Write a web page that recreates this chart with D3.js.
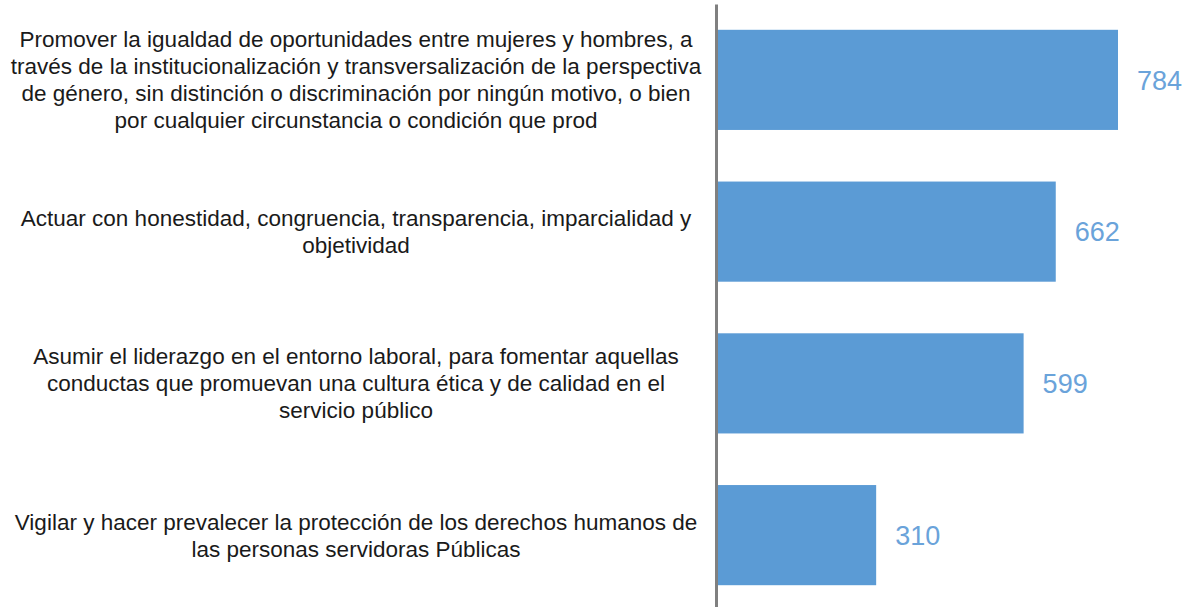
<!DOCTYPE html>
<html lang="es">
<head>
  <meta charset="UTF-8">
  <title>bar chart</title>
  <style>
    body {
      margin: 0;
      background: #fff;
      overflow: hidden;
    }
    .cat {
      font-family: "Liberation Sans", Arial, sans-serif;
      font-size: 22.5px;
      fill: #1a1a1a;
    }
    .val {
      font-family: "Liberation Sans", Arial, sans-serif;
      font-size: 27px;
      fill: #6aa3da;
    }
  </style>
</head>
<body>
<script src="https://cdn.jsdelivr.net/npm/d3@7"></script>
<script>
  // category labels, already wrapped the way the picture shows them
  var categories = [
    ["Promover la igualdad de oportunidades entre mujeres y hombres, a",
     "través de la institucionalización y transversalización de la perspectiva",
     "de género, sin distinción o discriminación por ningún motivo, o bien",
     "por cualquier circunstancia o condición que prod"],
    ["Actuar con honestidad, congruencia, transparencia, imparcialidad y",
     "objetividad"],
    ["Asumir el liderazgo en el entorno laboral, para fomentar aquellas",
     "conductas que promuevan una cultura ética y de calidad en el",
     "servicio público"],
    ["Vigilar y hacer prevalecer la protección de los derechos humanos de",
     "las personas servidoras Públicas"]
  ];
  var values = [784, 662, 599, 310];

  var width = 1189, height = 607;
  var axisX = 716;
  var labelCenter = 356;
  var lineH = 27;

  var idx = d3.range(values.length);

  var y = d3.scaleBand()
    .domain(idx)
    .range([4, 611])
    .paddingInner(0.34)
    .paddingOuter(0.17);

  var x = d3.scaleLinear()
    .domain([0, d3.max(values)])
    .range([718, 1118]);

  var svg = d3.select("body").append("svg")
    .attr("width", width)
    .attr("height", height);

  // bars
  svg.selectAll(".bar")
    .data(values)
    .enter().append("rect")
    .attr("class", "bar")
    .attr("x", x(0))
    .attr("y", function(d, i){ return y(i); })
    .attr("width", function(d){ return x(d) - x(0); })
    .attr("height", y.bandwidth())
    .attr("fill", "#5b9bd5");

  // value labels
  svg.selectAll(".val")
    .data(values)
    .enter().append("text")
    .attr("class", "val")
    .attr("x", function(d){ return x(d) + 19; })
    .attr("y", function(d, i){ return y(i) + y.bandwidth() / 2; })
    .attr("dy", "0.36em")
    .text(function(d){ return d; });

  // axis line (no ticks)
  var yAxis = svg.append("g")
    .attr("class", "y axis")
    .attr("transform", "translate(" + axisX + ",0)")
    .call(d3.axisLeft(y).tickSize(0).tickSizeOuter(0).tickFormat(""));

  yAxis.select(".domain")
    .attr("stroke", "#808080")
    .attr("stroke-width", 3);

  // category labels, centered on each band
  var cats = svg.selectAll(".cat")
    .data(categories)
    .enter().append("text")
    .attr("class", "cat")
    .attr("text-anchor", "middle")
    .attr("transform", function(d, i){
      var cy = y(i) + y.bandwidth() / 2;
      return "translate(" + labelCenter + "," + (cy - (d.length - 1) * lineH / 2) + ")";
    });

  cats.selectAll("tspan")
    .data(function(d){ return d; })
    .enter().append("tspan")
    .attr("x", 0)
    .attr("y", function(d, j){ return j * lineH; })
    .attr("dy", "0.35em")
    .text(function(d){ return d; });
</script>
</body>
</html>
